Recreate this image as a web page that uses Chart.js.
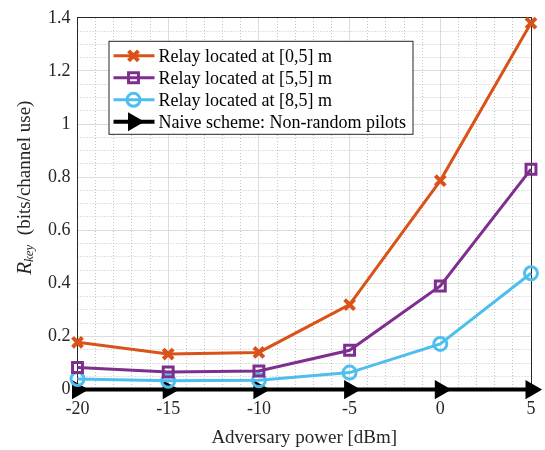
<!DOCTYPE html>
<html>
<head>
<meta charset="utf-8">
<script src="https://cdn.jsdelivr.net/npm/chart.js@4/dist/chart.umd.min.js"></script>
<style>
  html, body { margin: 0; padding: 0; background: #fff; }
  #wrap { width: 545px; height: 450px; }
</style>
</head>
<body>
<div id="wrap"><canvas id="chart"></canvas></div>
<script>
var power = [-20, -15, -10, -5, 0, 5];
var relay05 = [0.178, 0.134, 0.140, 0.320, 0.787, 1.380];
var relay55 = [0.083, 0.066, 0.070, 0.148, 0.390, 0.830];
var relay85 = [0.040, 0.033, 0.035, 0.064, 0.172, 0.438];
var naive = [0, 0, 0, 0, 0, 0];
var seriesNames = ["Relay located at [0,5] m", "Relay located at [5,5] m", "Relay located at [8,5] m", "Naive scheme: Non-random pilots"];

var serif = "'Liberation Serif', 'DejaVu Serif', serif";
var ink = "#262626";

function pts(ys) {
    return power.map(function (x, i) { return { x: x, y: ys[i] }; });
}

function makeSet(label, ys, color, style, radius, width, markWidth, rot) {
    return {
        label: label,
        data: pts(ys),
        borderColor: color,
        backgroundColor: color,
        borderWidth: width,
        pointStyle: style,
        pointRadius: radius,
        pointHoverRadius: radius,
        pointBorderColor: color,
        pointBackgroundColor: style === "triangle" ? color : "rgba(0,0,0,0)",
        pointBorderWidth: markWidth,
        pointRotation: rot || 0,
        tension: 0,
        clip: false
    };
}

// legend box drawn inside the plot, matlab style
var boxLegend = {
    id: "boxLegend",
    afterDraw: function (chart) {
        var c = chart.ctx, a = chart.chartArea;
        var left = a.left + 31, top = a.top + 23, w = 304, h = 93;
        c.save();
        c.fillStyle = "#fff";
        c.fillRect(left, top, w, h);
        c.strokeStyle = ink;
        c.lineWidth = 1;
        c.strokeRect(left + 0.5, top + 0.5, w, h);
        chart.data.datasets.forEach(function (ds, i) {
            var y = top + 15 + i * 22;
            c.strokeStyle = ds.borderColor;
            c.lineWidth = ds.borderWidth;
            c.beginPath();
            c.moveTo(left + 5, y);
            c.lineTo(left + 46, y);
            c.stroke();
            c.fillStyle = ds.pointBackgroundColor;
            c.strokeStyle = ds.pointBorderColor;
            c.lineWidth = ds.pointBorderWidth;
            Chart.helpers.drawPoint(c, {
                pointStyle: ds.pointStyle,
                radius: ds.pointRadius,
                rotation: ds.pointRotation,
                borderWidth: ds.pointBorderWidth
            }, left + 25, y);
            c.fillStyle = "#000";
            c.font = "18px " + serif;
            c.textBaseline = "middle";
            c.textAlign = "left";
            c.fillText(ds.label, left + 50, y + 1);
        });
        c.restore();
    }
};

// y title with italic R and subscript "key"
var yTitle = {
    id: "yTitle",
    afterDraw: function (chart) {
        var c = chart.ctx, a = chart.chartArea;
        var parts = [
            { t: "R", f: "italic 21px " + serif, dy: 0 },
            { t: "key", f: "italic 13px " + serif, dy: 5 },
            { t: "  (bits/channel use)", f: "19px " + serif, dy: 0 }
        ];
        c.save();
        var total = 0;
        parts.forEach(function (p) { c.font = p.f; p.w = c.measureText(p.t).width; total += p.w; });
        c.translate(25, (a.top + a.bottom) / 2 - 16);
        c.rotate(-Math.PI / 2);
        c.fillStyle = ink;
        c.textBaseline = "middle";
        var x = -total / 2;
        parts.forEach(function (p) {
            c.font = p.f;
            c.fillText(p.t, x, p.dy);
            x += p.w;
        });
        c.restore();
    }
};

function minorGrid(step) {
    return function (ctx) {
        var v = ctx.tick ? ctx.tick.value : 0;
        var r = Math.abs(v / step - Math.round(v / step));
        return r < 1e-6 ? "rgba(0,0,0,0)" : "#c4c4c4";
    };
}

new Chart(document.getElementById("chart"), {
    type: "line",
    data: {
        datasets: [
            makeSet(seriesNames[0], relay05, "#D95319", "crossRot", 7, 3, 4),
            makeSet(seriesNames[1], relay55, "#7E2F8E", "rect", 7, 3, 3),
            makeSet(seriesNames[2], relay85, "#4DBEEE", "circle", 6.5, 3, 3),
            makeSet(seriesNames[3], naive, "#000000", "triangle", 8, 4, 3, 90)
        ]
    },
    options: {
        responsive: true,
        maintainAspectRatio: false,
        animation: false,
        layout: { padding: { left: 41, right: 14, top: 15, bottom: 1 } },
        plugins: {
            legend: { display: false },
            tooltip: { enabled: false }
        },
        scales: {
            x: {
                type: "linear",
                position: "bottom",
                min: -20,
                max: 5,
                ticks: { stepSize: 5, color: ink, font: { family: serif, size: 18 }, padding: 9, maxRotation: 0 },
                grid: { color: "#dcdcdc", drawTicks: false },
                border: { color: ink, width: 1 },
                title: { display: true, text: "Adversary power [dBm]", color: ink, font: { family: serif, size: 19 }, padding: { top: -3, bottom: 0 } }
            },
            x2: {
                type: "linear",
                position: "top",
                min: -20,
                max: 5,
                ticks: { stepSize: 1, display: false },
                grid: { color: minorGrid(5), drawTicks: false },
                border: { color: ink, width: 1, dash: [1, 2] }
            },
            y: {
                position: "left",
                min: 0,
                max: 1.4,
                ticks: {
                    stepSize: 0.2,
                    color: ink,
                    font: { family: serif, size: 18 },
                    padding: 7,
                    callback: function (v) { return String(Number(v.toFixed(2))); }
                },
                grid: { color: "#dcdcdc", drawTicks: false },
                border: { color: ink, width: 1 }
            },
            y2: {
                position: "right",
                min: 0,
                max: 1.4,
                ticks: { stepSize: 0.05, display: false },
                grid: { color: minorGrid(0.2), drawTicks: false },
                border: { color: ink, width: 1, dash: [1, 2] }
            }
        }
    },
    plugins: [boxLegend, yTitle]
});
</script>
</body>
</html>
